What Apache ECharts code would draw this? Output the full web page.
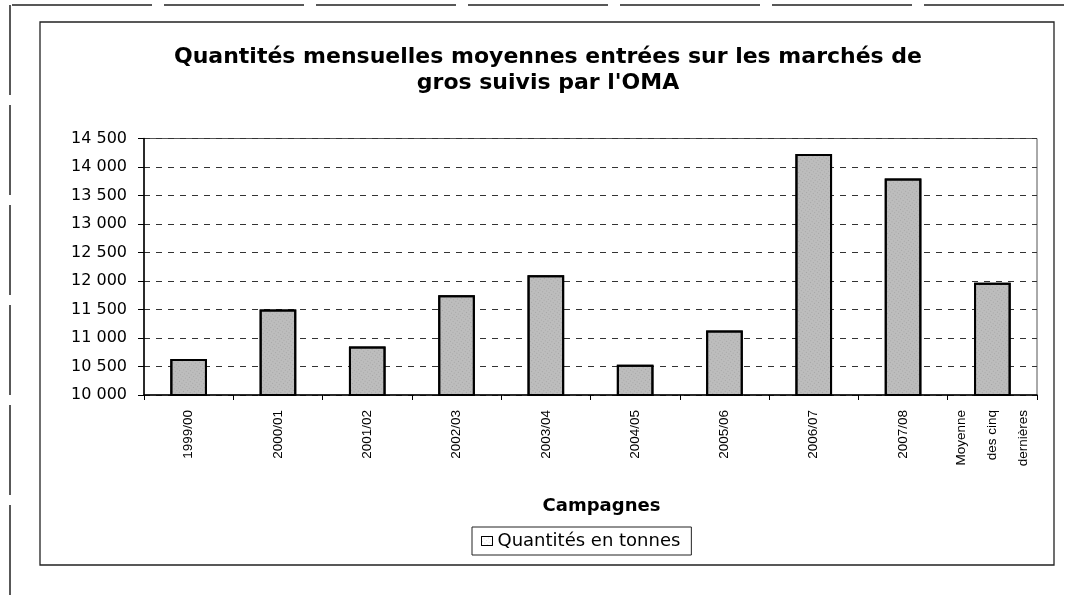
<!DOCTYPE html>
<html>
<head>
<meta charset="utf-8">
<script src="https://cdn.jsdelivr.net/npm/echarts@6/dist/echarts.min.js"></script>
<style>
html,body{margin:0;padding:0;background:#fff;}
#c{width:1074px;height:595px;}
</style>
</head>
<body>
<div id="c"></div>
<script>
var categories = ['1999/00','2000/01','2001/02','2002/03','2003/04','2004/05','2005/06','2006/07','2007/08','Moyenne\ndes cinq\ndernières'];
var quantites = [10630, 11500, 10850, 11750, 12100, 10530, 11130, 14230, 13800, 11970];
var yTickValues = [10000, 10500, 11000, 11500, 12000, 12500, 13000, 13500, 14000, 14500];
var yTickLabels = ['10 000','10 500','11 000','11 500','12 000','12 500','13 000','13 500','14 000','14 500'];
var seriesName = 'Quantités en tonnes';
var titleText = 'Quantités mensuelles moyennes entrées sur les marchés de\ngros suivis par l\'OMA';
var xAxisName = 'Campagnes';

var chart = echarts.init(document.getElementById('c'));
chart.setOption({
  backgroundColor: '#fff',
  animation: false,
  title: {
    text: titleText,
    left: 543,
    top: 39,
    textAlign: 'center',
    textStyle: {fontFamily: 'DejaVu Sans', fontWeight: 'bold', fontSize: 22, lineHeight: 26, color: '#000'}
  },
  legend: {
    data: [{name: seriesName, itemStyle: {color: '#fff', borderColor: '#000', borderWidth: 1}}],
    left: 472,
    top: 527,
    icon: 'rect',
    itemWidth: 11,
    itemHeight: 9,
    itemGap: 8,
    padding: [5, 11, 5, 9],
    borderColor: '#222',
    borderWidth: 1,
    textStyle: {fontFamily: 'DejaVu Sans', fontSize: 18, color: '#000'}
  },
  grid: {left: 144, right: 37, top: 138.5, bottom: 200, show: true, borderColor: '#555', borderWidth: 1},
  xAxis: {
    type: 'category',
    data: categories,
    name: xAxisName,
    nameLocation: 'middle',
    nameGap: 102,
    nameTextStyle: {fontFamily: 'DejaVu Sans', fontWeight: 'bold', fontSize: 18, color: '#000', padding: [0, 0, 0, 22]},
    axisLine: {lineStyle: {color: '#000', width: 1.5}},
    axisTick: {show: true, length: 5, lineStyle: {color: '#000', width: 1}},
    axisLabel: {rotate: 90, margin: 15, lineHeight: 31, fontFamily: 'Liberation Sans', fontSize: 13.5, color: '#000', interval: 0}
  },
  yAxis: {
    type: 'value',
    min: 10000,
    max: 14500,
    interval: 500,
    axisLine: {show: true, lineStyle: {color: '#000', width: 1.5}},
    axisTick: {show: true, length: 6, lineStyle: {color: '#000'}},
    axisLabel: {
      margin: 17,
      fontFamily: 'DejaVu Sans',
      fontSize: 16,
      color: '#000',
      formatter: function (v) {
        var i = yTickValues.indexOf(v);
        return i >= 0 ? yTickLabels[i] : String(v);
      }
    },
    splitLine: {show: true, lineStyle: {color: '#333', width: 1, type: [6, 6]}}
  },
  series: [{
    name: seriesName,
    type: 'bar',
    data: quantites,
    barWidth: '41%',
    itemStyle: {
      color: '#bdbdbd',
      borderColor: '#000',
      borderWidth: 2,
      decal: {symbol: 'rect', symbolSize: 0.7, color: 'rgba(60,60,60,0.5)', dashArrayX: [1, 2], dashArrayY: [1, 2], rotation: 0.6}
    }
  }],
  graphic: [
    {type: 'rect', shape: {x: 40, y: 22, width: 1014, height: 543}, style: {fill: 'none', stroke: '#222', lineWidth: 1.3}, silent: true},
    {type: 'line', shape: {x1: 12, y1: 5, x2: 1074, y2: 5}, style: {stroke: '#222', lineWidth: 1.5, lineDash: [140, 12]}, silent: true},
    {type: 'line', shape: {x1: 10, y1: 5, x2: 10, y2: 595}, style: {stroke: '#222', lineWidth: 1.5, lineDash: [90, 10]}, silent: true}
  ]
});
</script>
</body>
</html>
